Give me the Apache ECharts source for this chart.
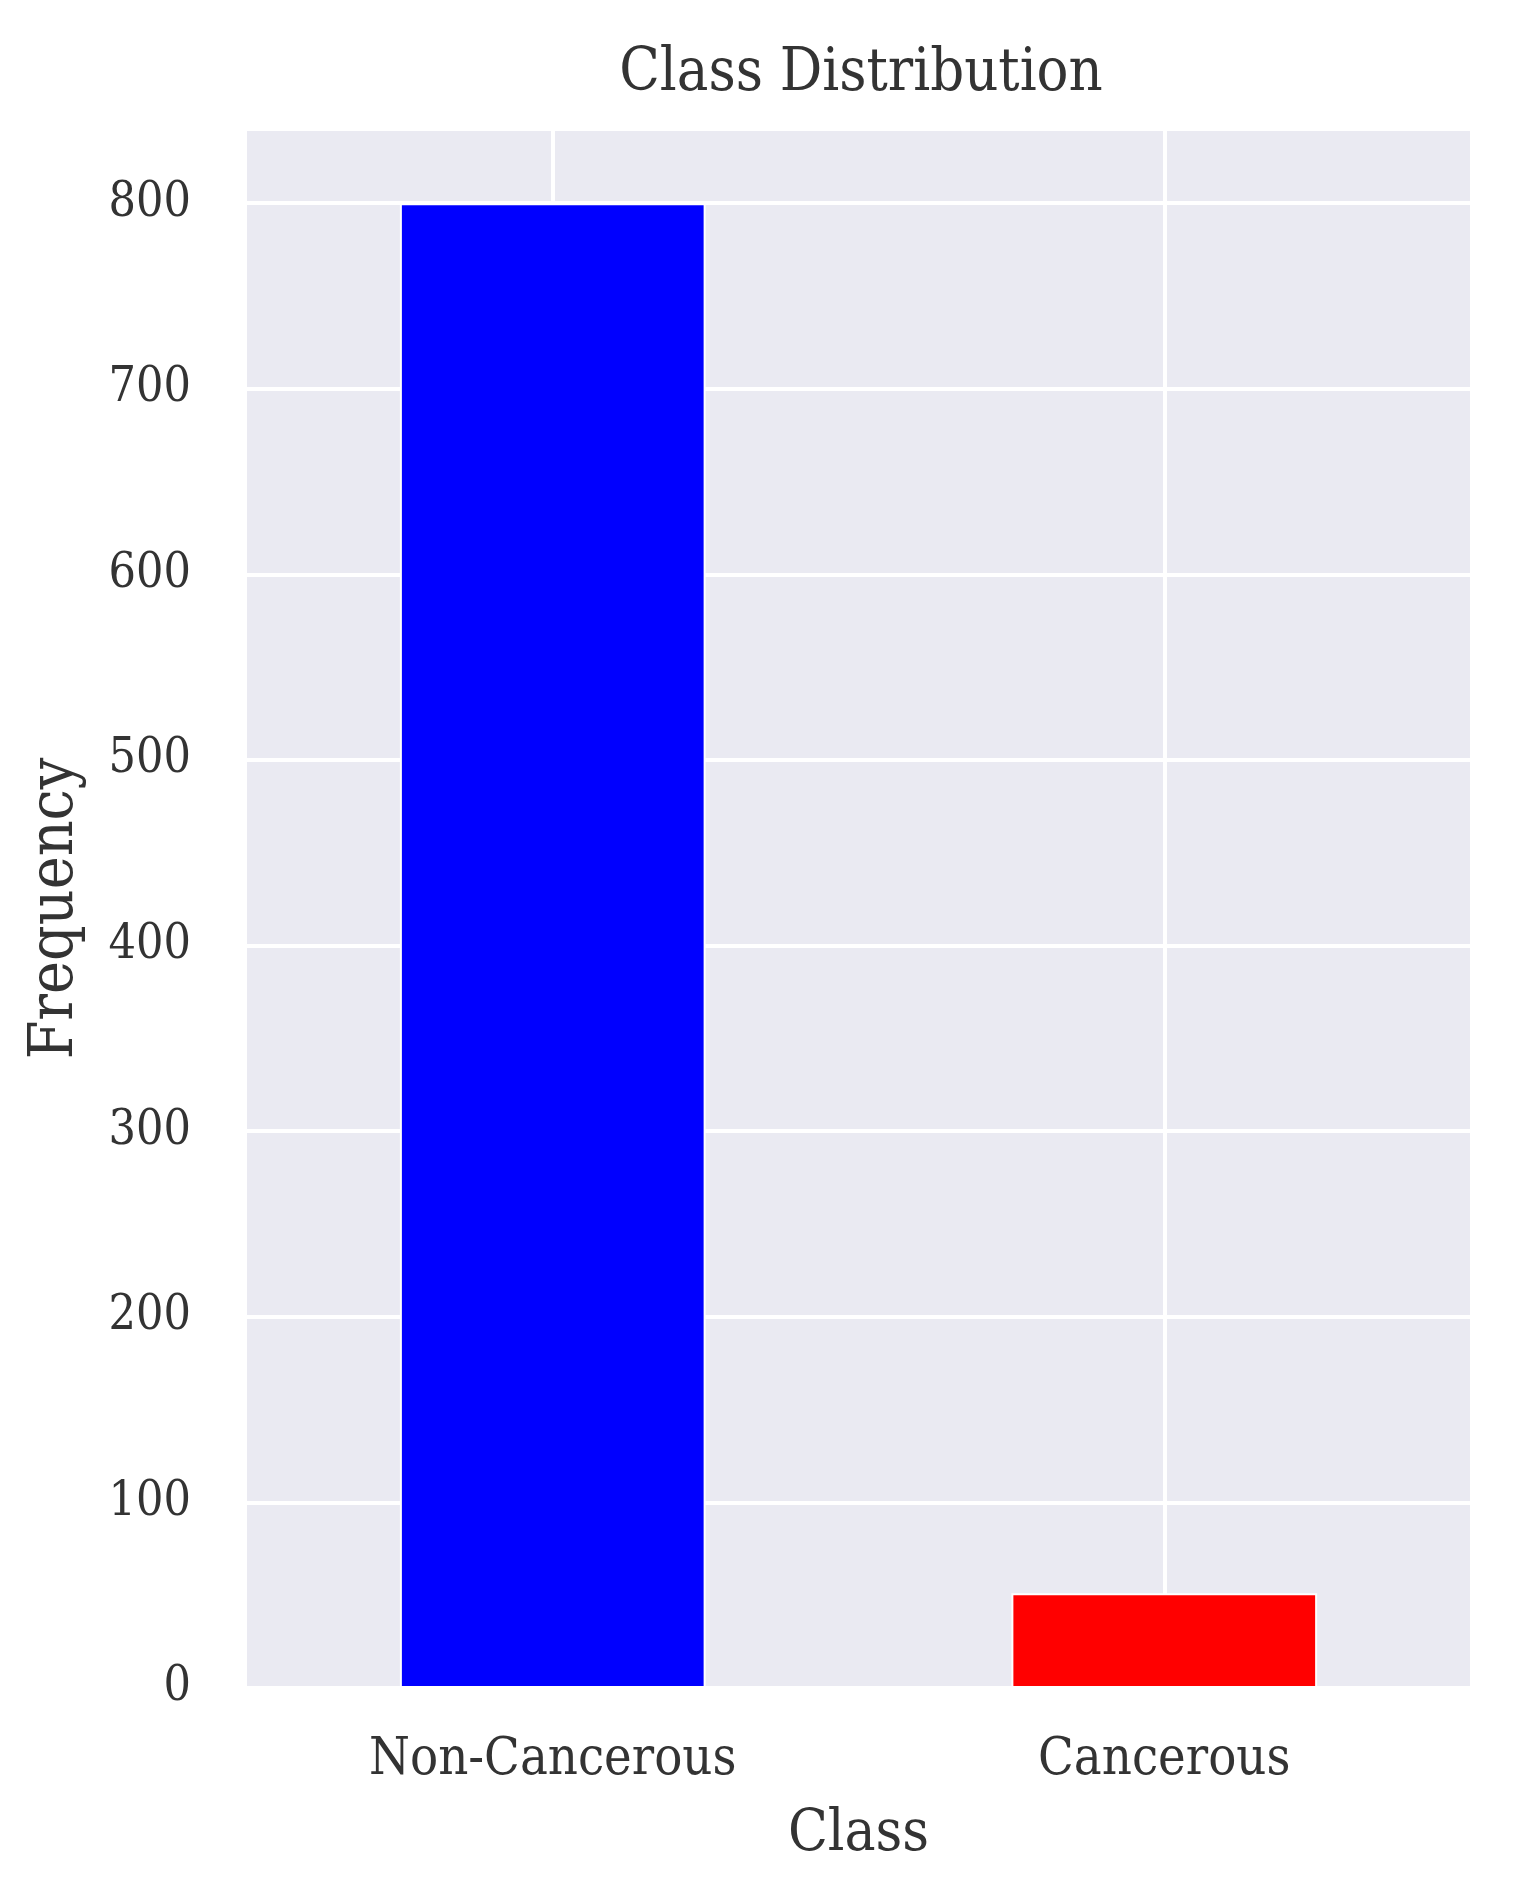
<!DOCTYPE html>
<html>
<head>
<meta charset="utf-8">
<script src="https://cdn.jsdelivr.net/npm/echarts@6/dist/echarts.min.js"></script>
<style>
html,body{margin:0;padding:0;background:#fff;}
#c{width:1517px;height:1880px;}
</style>
</head>
<body>
<div id="c"></div>
<script>
const categories = ['Non-Cancerous', 'Cancerous'];
const frequencies = [800, 51];
const barColors = ['#0000FF', '#FF0000'];
const yTicks = [0, 100, 200, 300, 400, 500, 600, 700, 800];

const FONT = "'DejaVu Serif Condensed', 'DejaVu Serif', serif";
const TXT = '#333333';

const chart = echarts.init(document.getElementById('c'), null, {renderer: 'canvas'});
chart.setOption({
  backgroundColor: '#ffffff',
  animation: false,
  title: {
    text: 'Class Distribution',
    left: 856, textAlign: 'center',
    top: 40,
    textStyle: {fontFamily: FONT, fontSize: 59, fontWeight: 'normal', color: TXT}
  },
  grid: {left: 247, right: 47, top: 129, bottom: 192, show: true, backgroundColor: '#EAEAF2', borderWidth: 0},
  xAxis: [{
    type: 'category',
    data: categories,
    axisLine: {show: false},
    axisTick: {show: false},
    splitLine: {show: false},
    axisLabel: {fontFamily: FONT, fontSize: 52, color: TXT, margin: 46},
    name: 'Class',
    nameLocation: 'middle',
    nameGap: 118,
    nameTextStyle: {fontFamily: FONT, fontSize: 58, color: TXT}
  }, {
    type: 'value',
    min: 0, max: 4, interval: 1,
    position: 'bottom',
    axisLine: {show: false}, axisTick: {show: false}, axisLabel: {show: false},
    splitLine: {show: true, lineStyle: {color: ['rgba(0,0,0,0)', '#ffffff'], width: 4}}
  }],
  yAxis: {
    type: 'value',
    min: 0, max: 840, interval: 100,
    axisLine: {show: false},
    axisTick: {show: false},
    axisLabel: {fontFamily: FONT, fontSize: 48, color: TXT, margin: 56,
      formatter: v => (yTicks.indexOf(v) >= 0 ? String(v) : '')},
    splitLine: {show: true, lineStyle: {color: '#ffffff', width: 4}},
    name: 'Frequency',
    nameLocation: 'middle',
    nameGap: 160,
    nameTextStyle: {fontFamily: FONT, fontSize: 62, color: TXT}
  },
  series: [{
    type: 'bar',
    xAxisIndex: 0,
    barWidth: '50%',
    data: frequencies.map((v, i) => ({value: v, itemStyle: {color: barColors[i]}})),
    itemStyle: {borderColor: '#ffffff', borderWidth: 2}
  }]
});
</script>
</body>
</html>
